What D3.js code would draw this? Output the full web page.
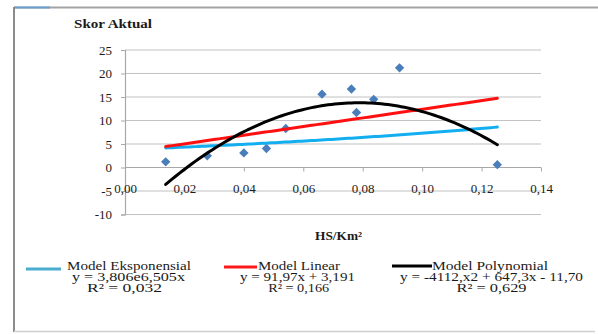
<!DOCTYPE html>
<html><head><meta charset="utf-8">
<script src="https://cdn.jsdelivr.net/npm/d3@7"></script>
<style>
html,body{margin:0;padding:0;background:#fff;}
</style></head>
<body>
<svg id="c" width="598" height="334"></svg>
<script>
// ---- data ----
const hsKm2 = [0.0137, 0.0277, 0.0400, 0.0476, 0.0541, 0.0663, 0.0762, 0.0779, 0.0837, 0.0924, 0.1253];
const skorAktual = [1.2, 2.5, 3.1, 4.05, 8.3, 15.6, 16.7, 11.7, 14.5, 21.2, 0.6];
const yTicks = [-10, -5, 0, 5, 10, 15, 20, 25];
const xTicks = [0, 0.02, 0.04, 0.06, 0.08, 0.10, 0.12, 0.14];
// trendline coefficients as printed in the legend
const expCoef = [3.806, 6.505];           // y = a * e^(b x)
const linCoef = [91.97, 3.191];           // y = a x + b
const polyCoef = [-4112, 647.3, -11.70];  // y = a x^2 + b x + c
const legendNames = ["Model Eksponensial", "Model Linear", "Model Polynomial"];
const legendEqs = ["y = 3,806e6,505x", "y = 91,97x + 3,191", "y = -4112,x2 + 647,3x - 11,70"];
const legendR2 = ["R² = 0,032", "R² = 0,166", "R² = 0,629"];
const trendColors = ["#12aef0", "#ff1010", "#000000"];

const FONT = '"Liberation Serif", "Times New Roman", Tinos, "DejaVu Serif", serif';
const svg = d3.select("#c");

// frame
svg.append("line").attr("x1",14).attr("x2",598).attr("y1",7.5).attr("y2",7.5).attr("stroke","#a3a3a3").attr("stroke-width",2);
svg.append("line").attr("x1",14).attr("x2",50).attr("y1",7.5).attr("y2",7.5).attr("stroke","#6b9fd2").attr("stroke-width",2);
svg.append("line").attr("x1",14).attr("x2",14).attr("y1",7).attr("y2",332).attr("stroke","#8c8c8c").attr("stroke-width",2);
svg.append("line").attr("x1",14).attr("x2",595).attr("y1",331.5).attr("y2",331.5).attr("stroke","#cfcfcf").attr("stroke-width",1.5);

const x = d3.scaleLinear().domain([0, 0.14]).range([125, 541]);
const y = d3.scaleLinear().domain([-10, 25]).range([214.5, 50]);

// gridlines
svg.append("g").selectAll("line").data(yTicks.filter(d=>d!==0)).join("line")
  .attr("x1",x(0)).attr("x2",x(0.14)).attr("y1",d=>y(d)).attr("y2",d=>y(d))
  .attr("stroke","#c2c2c2").attr("stroke-width",1.2);

// y axis
const yAxis = svg.append("g").attr("transform",`translate(${x(0)},0)`)
  .call(d3.axisLeft(y).tickValues(yTicks).tickSize(4).tickPadding(9).tickFormat(d=>String(d)));
yAxis.attr("font-family", FONT).attr("font-size", 13);
yAxis.select(".domain").attr("stroke","#a8a8a8").attr("stroke-width",1.2);
yAxis.selectAll(".tick line").attr("stroke","#a8a8a8");
yAxis.selectAll("text").attr("fill","#1a1a1a").attr("dy","0.34em");

// x axis at y=0
const xAxis = svg.append("g").attr("transform",`translate(0,${y(0)})`)
  .call(d3.axisBottom(x).tickValues(xTicks).tickSize(4).tickPadding(0)
    .tickFormat(d=>d.toFixed(2).replace(".", ",")));
xAxis.attr("font-family", FONT).attr("font-size", 13);
xAxis.select(".domain").attr("stroke","#a8a8a8").attr("stroke-width",1.2).attr("d",`M${x(0)},0H${x(0.14)}`);
xAxis.selectAll(".tick line").attr("stroke","#a8a8a8");
xAxis.selectAll("text").attr("fill","#1a1a1a").attr("y",null).attr("dy",null)
  .attr("transform",`translate(0,${y(-5)-y(0)+2})`);

// trendlines
const x0 = d3.min(hsKm2), x1 = d3.max(hsKm2);
const xs = d3.range(0, 101).map(i => x0 + (x1 - x0) * i / 100);
const models = [
  v => expCoef[0] * Math.exp(expCoef[1] * v),
  v => linCoef[0] * v + linCoef[1],
  v => polyCoef[0] * v * v + polyCoef[1] * v + polyCoef[2]
];
const line = d3.line().x(d=>x(d[0])).y(d=>y(d[1]));

// points
svg.append("g").selectAll("path").data(hsKm2.map((v,i)=>[v, skorAktual[i]])).join("path")
  .attr("d", d3.symbol(d3.symbolSquare, 44)())
  .attr("transform", d=>`translate(${x(d[0])},${y(d[1])}) rotate(45)`)
  .attr("fill","#4a7ebb");

models.forEach((f,i)=>{
  svg.append("path").datum(xs.map(v=>[v, f(v)]))
    .attr("d", line).attr("fill","none").attr("stroke",trendColors[i])
    .attr("stroke-width",3).attr("stroke-linecap","round");
});

function txt(xp, yp, s, size, w, bold){
  const t = svg.append("text").attr("x",xp).attr("y",yp)
    .attr("font-family", FONT).attr("font-size", size).attr("fill","#1a1a1a").text(s);
  if (bold) t.attr("font-weight","bold");
  if (w) t.attr("textLength",w).attr("lengthAdjust","spacingAndGlyphs");
  return t;
}

// titles
txt(74, 27.5, "Skor Aktual", 13, 78, true);
txt(315, 240, "HS/Km²", 13, 47, true);

// legend
const legLine = [[26,61,269],[224,257,267],[392,432,266]];
const legLineColors = ["#4aaccf","#ff1a1a","#000000"];
const nameX = [67,258,432], nameW = [124,82,116];
const eqC = [128.5,297.5,491.5], eqW = [113,115,183];
const r2C = [124.5,298.7,491.5], r2W = [75,61,70];
legendNames.forEach((n,i)=>{
  svg.append("line").attr("x1",legLine[i][0]).attr("x2",legLine[i][1]).attr("y1",legLine[i][2]).attr("y2",legLine[i][2])
    .attr("stroke",legLineColors[i]).attr("stroke-width",3);
  txt(nameX[i], 270, n, 11.5, nameW[i]);
  txt(eqC[i]-eqW[i]/2, 281, legendEqs[i], 11.5, eqW[i]);
  txt(r2C[i]-r2W[i]/2, 292, legendR2[i], 11.5, r2W[i]);
});
</script>
</body></html>
